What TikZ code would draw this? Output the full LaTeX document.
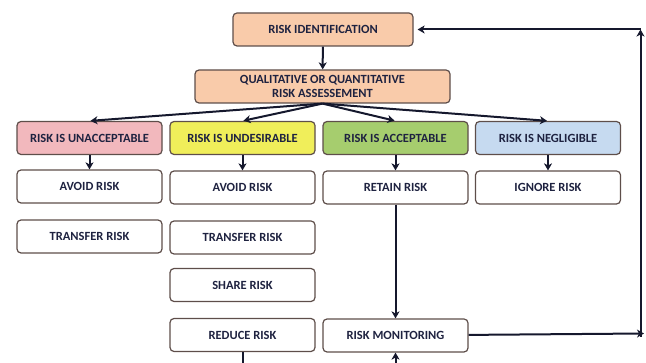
\documentclass[tikz,border=0pt]{standalone}
\usepackage{fontspec}
\setmainfont{Carlito}
\usetikzlibrary{arrows.meta}
\definecolor{peach}{HTML}{F9CBAA}
\definecolor{pinkbox}{HTML}{F2B8BD}
\definecolor{yellowbox}{HTML}{F0EE5A}
\definecolor{greenbox}{HTML}{A6CD6E}
\definecolor{bluebox}{HTML}{C6DAF0}
\definecolor{boxline}{HTML}{5E4E4A}
\definecolor{ink}{HTML}{1E2240}
\begin{document}
\begin{tikzpicture}[x=1pt,y=-1pt,>={Stealth[length=7pt,width=8pt,inset=2pt]},font=\fontsize{12.5}{13.5}\selectfont\bfseries,
	box/.style={draw=boxline,line width=1.2pt,rounded corners=4pt,minimum height=33pt,minimum width=145pt,inner sep=1pt,text=ink,align=center},
	link/.style={->,line width=2pt,draw=ink!70!black}]
	\useasboundingbox (0,0) rectangle (646,363);
	% top of the chart
	\node[box,fill=peach,minimum width=180pt] (ident) at (323,29.5) {RISK IDENTIFICATION};
	\node[box,fill=peach,minimum width=255pt] (assess) at (322.5,86.5) {QUALITATIVE OR QUANTITATIVE\\RISK ASSESSEMENT};
	% levels of risk
	\node[box,fill=pinkbox] (unacc) at (89.5,138) {RISK IS UNACCEPTABLE};
	\node[box,fill=yellowbox] (undes) at (242.5,138) {RISK IS UNDESIRABLE};
	\node[box,fill=greenbox] (acc) at (395.5,138) {RISK IS ACCEPTABLE};
	\node[box,fill=bluebox] (negl) at (548,138) {RISK IS NEGLIGIBLE};
	% responses
	\node[box] (avoidA) at (89.5,186.5) {AVOID RISK};
	\node[box] (avoidB) at (242.5,187.5) {AVOID RISK};
	\node[box] (retain) at (395.5,187.5) {RETAIN RISK};
	\node[box] (ignore) at (548,187.5) {IGNORE RISK};
	\node[box] (transA) at (89.5,236.5) {TRANSFER RISK};
	\node[box] (transB) at (242.5,237.5) {TRANSFER RISK};
	\node[box] (share) at (242.5,285) {SHARE RISK};
	\node[box] (reduce) at (242.5,335) {REDUCE RISK};
	\node[box] (monitor) at (395.5,335.5) {RISK MONITORING};
	% arrows
	\draw[link] (ident) -- (assess);
	\foreach \b in {unacc,undes,acc,negl}
		\draw[link,shorten >=1pt] (assess.south) -- (\b.north);
	\draw[link] (unacc) -- (avoidA);
	\draw[link] (undes) -- (avoidB);
	\draw[link] (acc) -- (retain);
	\draw[link] (negl) -- (ignore);
	\draw[link] (retain) -- (monitor);
	\coordinate (cutA) at (reduce.south |- 0,366);
	\coordinate (cutB) at (monitor.south |- 0,366);
	\draw[line width=2pt,draw=ink!70!black] (reduce) -- (cutA);
	\draw[link] (cutB) -- (monitor);
	\coordinate (loopB) at (644,333.5);
	\coordinate (loopT) at (640.5,29.5);
	\draw[link] (monitor) -- (loopB);
	\draw[link] (640.5,337) -- (loopT);
	\draw[link,shorten >=4pt] (loopT) -- (ident);
\end{tikzpicture}
\end{document}
